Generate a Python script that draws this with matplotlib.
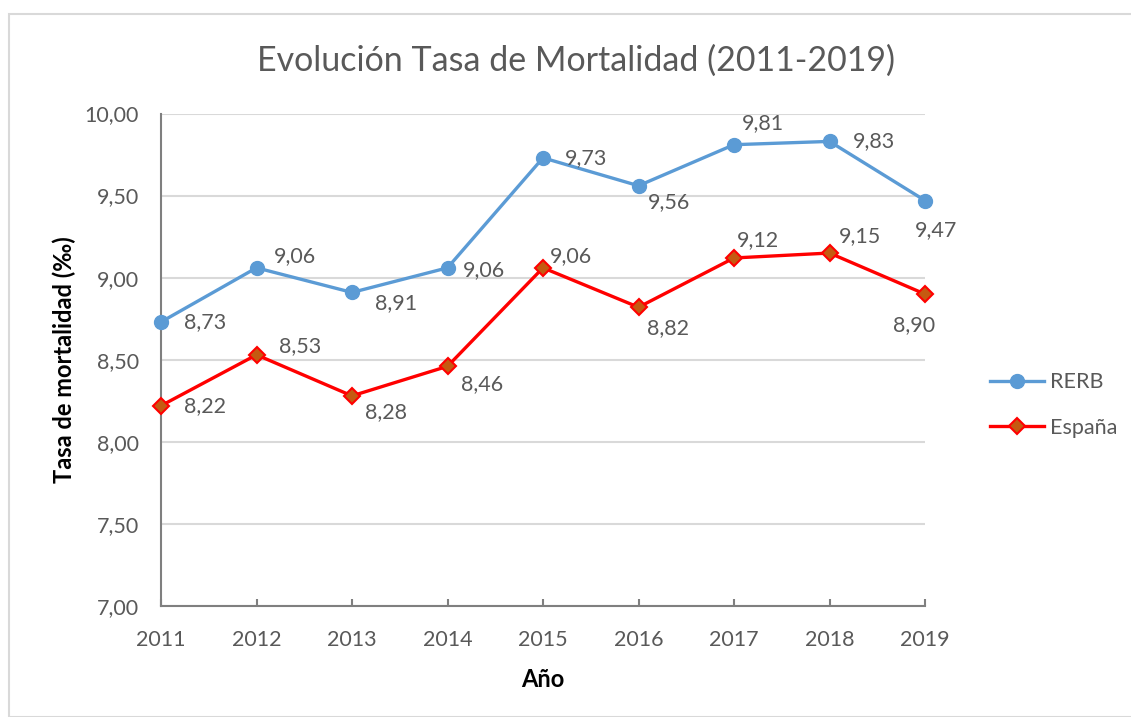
import matplotlib.pyplot as plt
from matplotlib.patches import Rectangle
from matplotlib.lines import Line2D

# Datos (tasa de mortalidad, por mil)
years = [2011, 2012, 2013, 2014, 2015, 2016, 2017, 2018, 2019]
rerb = [8.73, 9.06, 8.91, 9.06, 9.73, 9.56, 9.81, 9.83, 9.47]
espana = [8.22, 8.53, 8.28, 8.46, 9.06, 8.82, 9.12, 9.15, 8.90]
y_ticks = [7.0, 7.5, 8.0, 8.5, 9.0, 9.5, 10.0]

# Desplazamiento de las etiquetas de datos (en puntos)
rerb_off = [(31.7, 0), (28, 8.6), (31.7, -7.9), (26, -1.4), (31, 0),
            (22.3, -11.5), (20.9, 15.8), (31.7, 0), (7.9, -21.6)]
esp_off = [(31.7, 0), (31.7, 6.5), (24.5, -11.5), (25.2, -13), (20.2, 8.6),
           (21.6, -15.1), (17.3, 13), (22.3, 12.2), (-7.9, -22.3)]

GRAY = '#595959'
BLUE = '#5B9BD5'
RED = '#FF0000'
FILL = '#C55A11'
FS = 15.5

plt.rcParams['font.family'] = ['Lato', 'DejaVu Sans']

W, H = 1131, 717
fig = plt.figure(figsize=(W / 100, H / 100), dpi=100)

# Marco del gráfico
fig.patches.append(Rectangle((9 / W, 0), 1.0, 1 - 14 / H, transform=fig.transFigure,
                             fill=False, edgecolor='#D9D9D9', linewidth=1.5))

ax = fig.add_axes([161 / W, (H - 606) / H, (925 - 161) / W, (606 - 113.5) / H])

ax.plot(years, rerb, color=BLUE, lw=2.4, marker='o', ms=10, mfc=BLUE, mec=BLUE,
        label='RERB', zorder=3, clip_on=False)
ax.plot(years, espana, color=RED, lw=2.4, marker='D', ms=8, mfc=FILL, mec=RED,
        mew=1.5, label='España', zorder=3, clip_on=False)

fmt = lambda v: f'{v:.2f}'.replace('.', ',')
for x, v, o in zip(years, rerb, rerb_off):
    ax.annotate(fmt(v), (x, v), xytext=o, textcoords='offset points',
                ha='center', va='center', fontsize=FS, color=GRAY)
for x, v, o in zip(years, espana, esp_off):
    ax.annotate(fmt(v), (x, v), xytext=o, textcoords='offset points',
                ha='center', va='center', fontsize=FS, color=GRAY)

ax.set_xlim(2011, 2019)
ax.set_ylim(7, 10)
ax.set_xticks(years)
ax.set_yticks(y_ticks)
ax.set_yticklabels([fmt(t) for t in y_ticks])
ax.yaxis.grid(True, color='#D9D9D9', lw=1.5)
ax.set_axisbelow(True)

for s in ['top', 'right']:
    ax.spines[s].set_visible(False)
for s in ['left', 'bottom']:
    ax.spines[s].set_color('#7F7F7F')
    ax.spines[s].set_linewidth(1.5)

ax.tick_params(axis='x', direction='in', length=5, width=1.5, color='#7F7F7F',
               labelsize=FS, labelcolor=GRAY, pad=17.5)
ax.tick_params(axis='y', length=0, labelsize=FS, labelcolor=GRAY, pad=16)

ax.set_xlabel('Año', fontsize=17, fontweight='bold', color='black', labelpad=12.5)
ax.set_ylabel('Tasa de mortalidad (‰)', fontsize=17, fontweight='bold',
              color='black', labelpad=6)

fig.text(576 / W, 1 - 61 / H, 'Evolución Tasa de Mortalidad (2011-2019)',
         ha='center', va='center', fontsize=24.5, color=GRAY)

handles = [
    Line2D([], [], color=BLUE, lw=2.4, marker='o', ms=10, mfc=BLUE, mec=BLUE),
    Line2D([], [], color=RED, lw=2.4, marker='D', ms=8, mfc=FILL, mec=RED, mew=1.5),
]
fig.legend(handles, ['RERB', 'España'], loc='center left',
           bbox_to_anchor=(990 / W, 1 - 405 / H), frameon=False, fontsize=FS,
           labelcolor=GRAY, handlelength=2.5, handletextpad=0.3,
           labelspacing=1.2, borderpad=0, borderaxespad=0)

fig.savefig('out.png', dpi=100)
